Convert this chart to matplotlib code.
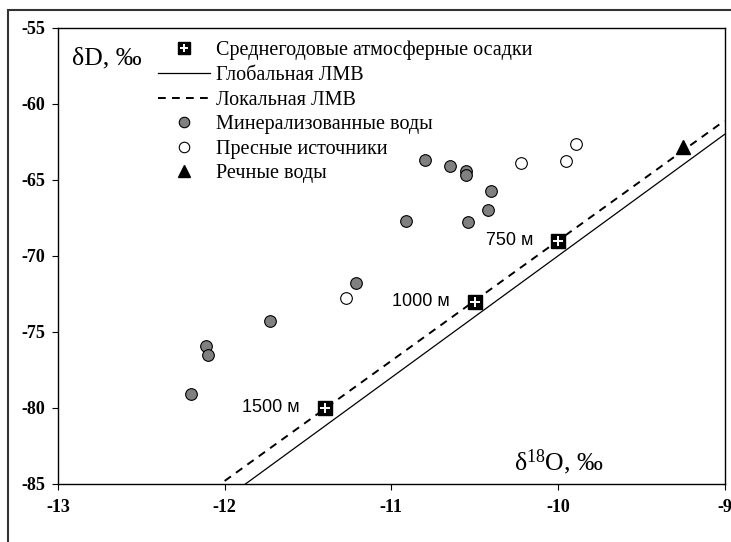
import matplotlib
matplotlib.use("Agg")
import matplotlib.pyplot as plt
import numpy as np
from matplotlib.patches import Rectangle
from matplotlib.legend_handler import HandlerTuple

plt.rcParams['mathtext.fontset'] = 'custom'
plt.rcParams['mathtext.rm'] = 'Liberation Serif'
plt.rcParams['mathtext.it'] = 'Liberation Serif:italic'

# ---- data ----
precip_x = [-11.40, -10.50, -10.00]
precip_y = [-80.0, -73.0, -69.0]
precip_labels = ["1500 м", "1000 м", "750 м"]

mineral_x = [-12.20, -12.11, -12.10, -11.73, -11.21, -10.91, -10.80, -10.65, -10.55, -10.55, -10.54, -10.42, -10.40]
mineral_y = [-79.1, -75.9, -76.5, -74.3, -71.8, -67.7, -63.7, -64.1, -64.4, -64.65, -67.75, -66.95, -65.7]

fresh_x = [-11.27, -10.22, -9.95, -9.89]
fresh_y = [-72.75, -63.9, -63.75, -62.6]

river_x = [-9.25]
river_y = [-62.8]

gmwl_x = [-12.0, -9.0]
gmwl_slope, gmwl_icpt = 8.0, 10.0
lmwl_x = [-12.0, -9.0]
lmwl_slope, lmwl_icpt = 7.9, 10.0

xticks = [-13, -12, -11, -10, -9]
yticks = [-85, -80, -75, -70, -65, -60, -55]

legend_labels = ["Среднегодовые атмосферные осадки", "Глобальная ЛМВ", "Локальная ЛМВ",
                 "Минерализованные воды", "Пресные источники", "Речные воды"]

# ---- figure ----
W, H = 731, 542
fig = plt.figure(figsize=(W / 100, H / 100), dpi=100)
ax = fig.add_axes([58 / W, (H - 484) / H, (724.5 - 58) / W, (484 - 28) / H])

gx = np.array(gmwl_x)
lx = np.array(lmwl_x)
h_g, = ax.plot(gx, gmwl_slope * gx + gmwl_icpt, color='black', lw=0.9, zorder=2)
h_l, = ax.plot(lx, lmwl_slope * lx + lmwl_icpt, color='black', lw=1.4, dashes=(4, 3.2), zorder=2)

h_m, = ax.plot(mineral_x, mineral_y, 'o', ms=8.4, mfc='#808080', mec='black', mew=0.8, zorder=3)
h_f, = ax.plot(fresh_x, fresh_y, 'o', ms=8.4, mfc='white', mec='black', mew=0.8, zorder=3)
h_r, = ax.plot(river_x, river_y, '^', ms=10, mfc='black', mec='black', zorder=3)

h_sq, = ax.plot(precip_x, precip_y, 's', ms=10.3, mfc='black', mec='black', zorder=4)
h_pl, = ax.plot(precip_x, precip_y, '+', ms=7, mec='white', mew=1.4, zorder=5)

for x, y, t in zip(precip_x, precip_y, precip_labels):
    ax.annotate(t, (x, y), xytext=(-25, 0), textcoords='offset pixels', ha='right', va='center',
                fontsize=13, family='Liberation Sans', color='black')

ax.set_xlim(-13, -9)
ax.set_ylim(-85, -55)
ax.set_xticks(xticks)
ax.set_yticks(yticks)
ax.set_xticklabels([str(v) for v in xticks])
ax.set_yticklabels([str(v) for v in yticks])
ax.tick_params(direction='out', length=4.5, width=0.8, pad=5, labelsize=13)
ax.tick_params(axis='x', pad=6)
for lab in ax.get_xticklabels() + ax.get_yticklabels():
    lab.set_fontfamily('Liberation Serif')
    lab.set_fontweight('bold')
for s in ax.spines.values():
    s.set_linewidth(1.0)
    s.set_color('black')

ax.text((72 - 58) / (724.5 - 58), (484 - 58) / (484 - 28), "δD, ‰", transform=ax.transAxes,
        ha='left', va='center', fontsize=18.5, family='Liberation Serif')
ax.text((514 - 58) / (724.5 - 58), (484 - 462) / (484 - 28), r"δ$^{\mathrm{18}}$O, ‰", transform=ax.transAxes,
        ha='left', va='center', fontsize=18.5, family='Liberation Serif')

leg = ax.legend([(h_sq, h_pl), h_g, h_l, h_m, h_f, h_r], legend_labels,
                handler_map={tuple: HandlerTuple(ndivide=1, pad=0)},
                loc='upper left', bbox_to_anchor=(158 / W, (H - 41) / H), bbox_transform=fig.transFigure,
                frameon=False, borderpad=0, borderaxespad=0, handlelength=2.6, handletextpad=0.3,
                labelspacing=0.27, markerscale=0.9, prop={'family': 'Liberation Serif', 'size': 14.5})

# outer frame
fig.patches.append(Rectangle((8 / W, -0.02), 1.0, 1 - 10 / H + 0.02, transform=fig.transFigure,
                             fill=False, lw=1.5, edgecolor='#333333'))

fig.savefig("out.png", dpi=100)
